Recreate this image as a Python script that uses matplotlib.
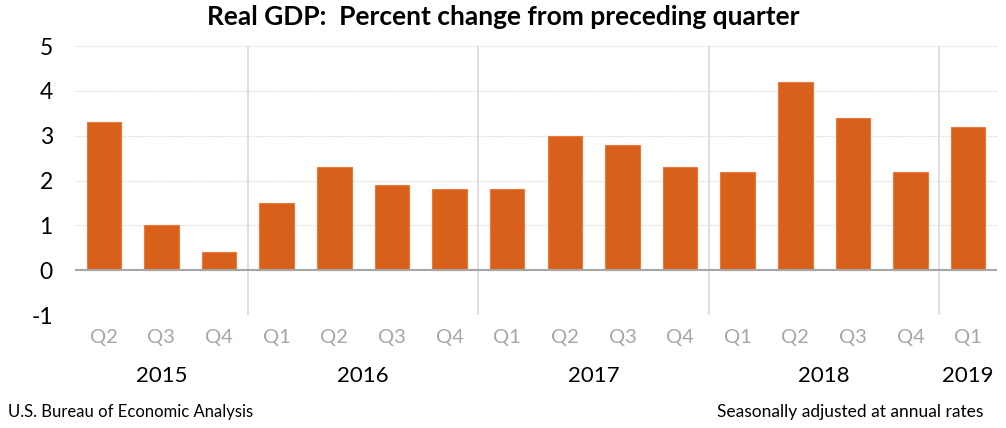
import numpy as np
import matplotlib
matplotlib.use("Agg")
import matplotlib.pyplot as plt

plt.rcParams['font.family'] = ['Lato', 'DejaVu Sans']

quarters = ['Q2', 'Q3', 'Q4',
            'Q1', 'Q2', 'Q3', 'Q4',
            'Q1', 'Q2', 'Q3', 'Q4',
            'Q1', 'Q2', 'Q3', 'Q4',
            'Q1']
gdp = [3.3, 1.0, 0.4,
       1.5, 2.3, 1.9, 1.8,
       1.8, 3.0, 2.8, 2.3,
       2.2, 4.2, 3.4, 2.2,
       3.2]
years = ['2015', '2016', '2017', '2018', '2019']
year_counts = [3, 4, 4, 4, 1]

W, H = 1006, 428
fig = plt.figure(figsize=(W / 100, H / 100), dpi=100)
ax = fig.add_axes([75 / W, 1 - 315 / H, (997 - 75) / W, (315 - 46) / H])

x = np.arange(len(gdp))
ax.bar(x, gdp, width=0.6, color='#D9601A', edgecolor='#E77A3C', linewidth=0.8, zorder=3)

ax.set_xlim(-0.5, len(gdp) - 0.5)
ax.set_ylim(-1, 5)
ax.set_yticks(range(-1, 6))
ax.set_yticklabels([str(v) for v in range(-1, 6)], fontsize=16.5, color='black')
ax.tick_params(axis='y', length=0, pad=16)
ax.set_xticks([])
for s in ax.spines.values():
    s.set_visible(False)

# dotted gridlines
for v in range(-1, 6):
    if v != 0:
        ax.axhline(v, color='#D9D9D9', lw=0.9, ls=(0, (1, 1)), zorder=0)
ax.axhline(0, color='#A6A6A6', lw=1.5, zorder=4)

# year separators
bounds = np.cumsum(year_counts)[:-1] - 0.5
for b in bounds:
    ax.axvline(b, ymin=0, ymax=1, color='#D9D9D9', lw=1.2, zorder=1)

# quarter labels
trans = ax.get_xaxis_transform()
for i, q in enumerate(quarters):
    ax.text(i, -0.085, q, transform=trans, ha='center', va='center',
            fontsize=14.5, color='#A6A6A6')

# year labels
start = 0
for yr, n in zip(years, year_counts):
    c = start + (n - 1) / 2
    ax.text(c, -0.225, yr, transform=trans, ha='center', va='center',
            fontsize=16, color='black')
    start += n

fig.text(0.5, 1 - 17 / H, 'Real GDP:  Percent change from preceding quarter',
         ha='center', va='center', fontsize=19, fontweight='bold')
fig.text(8 / W, 1 - 412 / H, 'U.S. Bureau of Economic Analysis',
         ha='left', va='center', fontsize=12)
fig.text(983 / W, 1 - 412 / H, 'Seasonally adjusted at annual rates',
         ha='right', va='center', fontsize=12.5)

fig.savefig('out.png', dpi=100, facecolor='white')
